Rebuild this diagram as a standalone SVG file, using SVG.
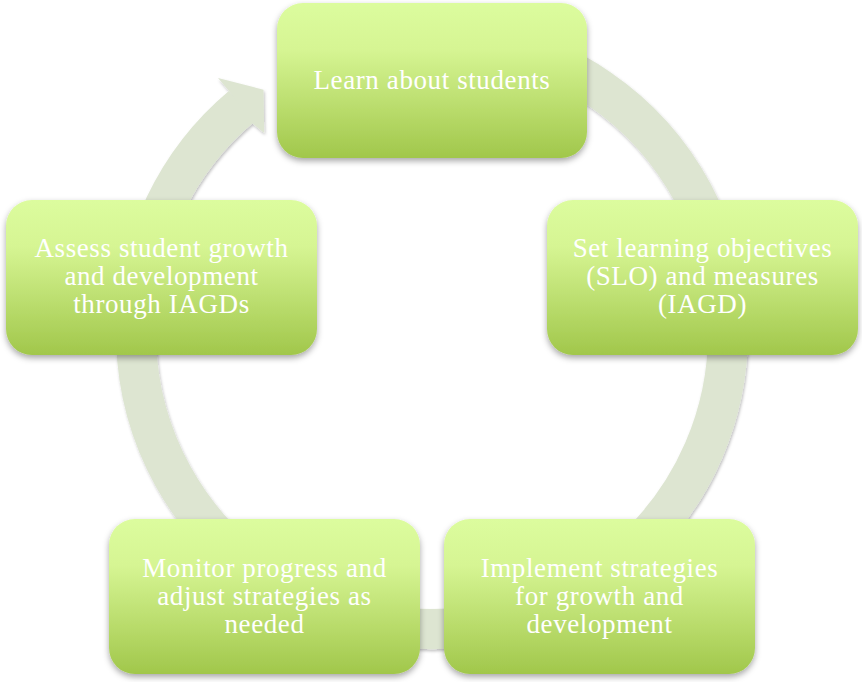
<svg xmlns="http://www.w3.org/2000/svg" width="862" height="682" viewBox="0 0 862 682">
<defs>
<linearGradient id="boxGrad" x1="0" y1="0" x2="0" y2="1">
<stop offset="0" stop-color="#dcfc9e"/>
<stop offset="0.3" stop-color="#d6f593"/>
<stop offset="1" stop-color="#a1c74b"/>
</linearGradient>
<filter id="boxShadow" x="-10%" y="-10%" width="120%" height="130%">
<feDropShadow dx="0" dy="3" stdDeviation="3" flood-color="#000" flood-opacity="0.35"/>
</filter>
<filter id="ringShadow" x="-10%" y="-10%" width="120%" height="120%">
<feDropShadow dx="1" dy="2" stdDeviation="1.5" flood-color="#000" flood-opacity="0.25"/>
</filter>
</defs>
<style>
.box{fill:url(#boxGrad);filter:url(#boxShadow)}
.lbl{fill:#ffffff;font-family:"Liberation Serif","DejaVu Serif",serif;font-size:27px;letter-spacing:0.6px;text-anchor:middle}
.ring{fill:none;stroke:#dde5d1;stroke-width:40}
.head{fill:#dde5d1}
</style>
<rect width="862" height="682" fill="#ffffff"/>
<g id="connectors" filter="url(#ringShadow)">
<path class="ring" d="M483.4 41.5 A296 296 0 1 1 241.7 106.3"/>
<polygon class="head" points="218,78 263.5,89.7 264.2,133.1 252,123 229.5,91.5"/>
</g>
<g id="node-learn">
<rect class="box" x="277" y="3" width="310" height="155" rx="26"/>
<text class="lbl" x="432" y="89">Learn about students</text>
</g>
<g id="node-set">
<rect class="box" x="547" y="200" width="311" height="155" rx="26"/>
<text class="lbl" x="702.5" y="257">Set learning objectives</text>
<text class="lbl" x="702.5" y="285">(SLO) and measures</text>
<text class="lbl" x="702.5" y="313">(IAGD)</text>
</g>
<g id="node-implement">
<rect class="box" x="444" y="519" width="311" height="155" rx="26"/>
<text class="lbl" x="599.5" y="577">Implement strategies</text>
<text class="lbl" x="599.5" y="605">for growth and</text>
<text class="lbl" x="599.5" y="633">development</text>
</g>
<g id="node-monitor">
<rect class="box" x="109" y="519" width="311" height="155" rx="26"/>
<text class="lbl" x="264.5" y="577">Monitor progress and</text>
<text class="lbl" x="264.5" y="605">adjust strategies as</text>
<text class="lbl" x="264.5" y="633">needed</text>
</g>
<g id="node-assess">
<rect class="box" x="6" y="200" width="311" height="155" rx="26"/>
<text class="lbl" x="161.5" y="257">Assess student growth</text>
<text class="lbl" x="161.5" y="285">and development</text>
<text class="lbl" x="161.5" y="313">through IAGDs</text>
</g>
</svg>
